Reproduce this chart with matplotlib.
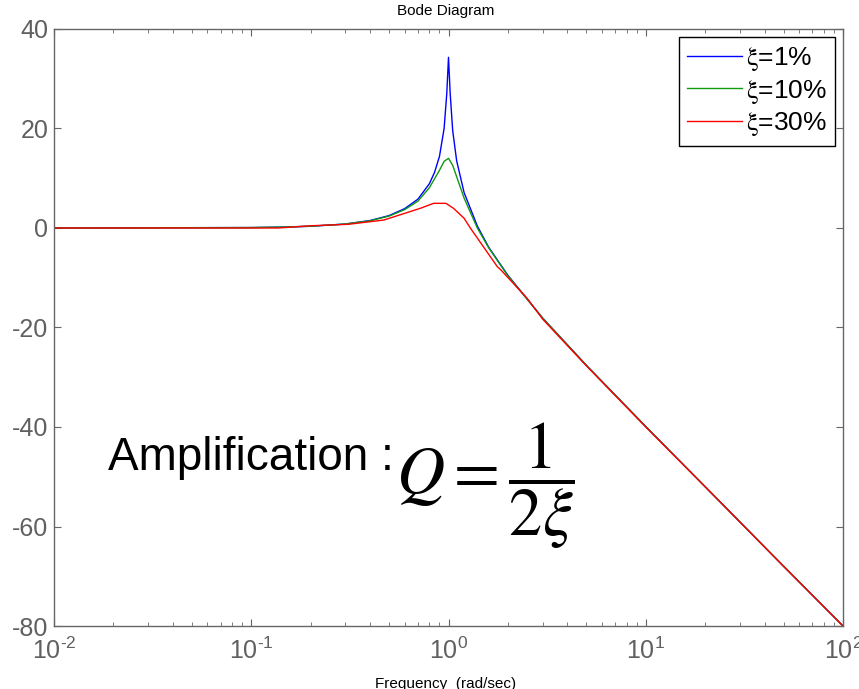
import matplotlib
matplotlib.use("Agg")
import matplotlib.pyplot as plt
from matplotlib.ticker import LogLocator, FixedLocator, NullFormatter

plt.rcParams['font.family'] = ['Liberation Sans', 'DejaVu Sans']
plt.rcParams['mathtext.fontset'] = 'custom'
plt.rcParams['mathtext.rm'] = 'Liberation Sans'
plt.rcParams['mathtext.it'] = 'Liberation Sans:italic'
plt.rcParams['axes.unicode_minus'] = False

w_1 = [0.01, 0.1, 0.15, 0.2, 0.3, 0.4, 0.5, 0.6, 0.7, 0.8, 0.85, 0.9, 0.95, 0.98, 1.0,
       1.02, 1.05, 1.1, 1.2, 1.4, 1.6, 2.0, 3.0, 5.0, 10.0, 20.0, 50.0, 100.0]
db_1 = [0.0, 0.09, 0.2, 0.35, 0.8, 1.5, 2.5, 3.9, 5.8, 8.9, 11.2, 14.4, 20.0, 27.0, 34.3,
        27.0, 19.6, 13.5, 7.1, 0.4, -3.9, -9.5, -18.1, -27.6, -39.9, -52.0, -68.0, -80.0]

w_10 = [0.01, 0.1, 0.15, 0.2, 0.3, 0.4, 0.5, 0.6, 0.7, 0.8, 0.9, 0.95, 1.0,
        1.05, 1.1, 1.2, 1.4, 1.6, 2.0, 3.0, 5.0, 10.0, 20.0, 50.0, 100.0]
db_10 = [0.0, 0.09, 0.2, 0.35, 0.8, 1.45, 2.4, 3.7, 5.4, 8.1, 11.6, 13.4, 14.0,
         12.6, 10.3, 6.0, 0.0, -4.0, -9.6, -18.1, -27.6, -39.9, -52.0, -68.0, -80.0]

w_30 = [0.01, 0.137, 0.2, 0.31, 0.47, 0.72, 0.84, 0.97, 1.06, 1.2, 1.29,
        1.77, 1.84, 2.5, 3.0, 5.0, 10.0, 20.0, 50.0, 100.0]
db_30 = [0.0, 0.0, 0.45, 0.74, 1.6, 3.96, 4.96, 4.96, 3.96, 1.95, 0.0,
         -7.8, -8.4, -14.1, -18.3, -27.7, -40.0, -52.0, -68.0, -80.0]

labels = [r'$\mathrm{\xi}$=1%', r'$\mathrm{\xi}$=10%', r'$\mathrm{\xi}$=30%']
couleurs = ['#0000ff', '#109a10', '#ff0000']

y_ticks = [-80, -60, -40, -20, 0, 20, 40]
x_ticks = [0.01, 0.1, 1, 10, 100]
x_labels = ['$10^{\u20102}$', '$10^{\u20101}$', r'$10^{0}$', r'$10^{1}$', r'$10^{2}$']

fig = plt.figure(figsize=(8.59, 6.89), dpi=100)
ax = fig.add_axes([54 / 859, 1 - 626 / 689, (843 - 54) / 859, (626 - 29) / 689])

for w, db, lab, c in zip([w_1, w_10, w_30], [db_1, db_10, db_30], labels, couleurs):
    ax.plot(w, db, color=c, lw=1.0, label=lab)

ax.set_xscale('log')
ax.set_xlim(0.01, 100)
ax.set_ylim(-80, 40)
ax.xaxis.set_major_locator(FixedLocator(x_ticks))
ax.set_xticklabels(x_labels)
ax.xaxis.set_minor_locator(LogLocator(base=10, subs=range(2, 10)))
ax.xaxis.set_minor_formatter(NullFormatter())
ax.set_yticks(y_ticks)

gris = '#606060'
for s in ax.spines.values():
    s.set_color('#666666')
    s.set_linewidth(1.0)
ax.tick_params(which='both', direction='in', top=True, right=True, colors='#666666',
               labelcolor=gris, labelsize=18)
ax.tick_params(which='major', length=5)
ax.tick_params(which='minor', length=3)
ax.tick_params(axis='y', pad=4)
ax.tick_params(axis='x', pad=8)

leg = ax.legend(loc='upper right', fontsize=19, frameon=True, fancybox=False,
                edgecolor='black', framealpha=1, handlelength=2.1, handletextpad=0.15,
                borderpad=0.3, labelspacing=0.18, borderaxespad=0.3)
leg.get_frame().set_linewidth(1.0)
for t in leg.get_texts():
    t.set_math_fontfamily('stix')

# titre et légende d'axe coupés par le bord de l'image, comme l'original
fig.text(446 / 859, 1 - 15 / 689, 'Bode Diagram', ha='center', va='baseline', fontsize=11)
fig.text(446 / 859, 1 - 677 / 689, 'Frequency  (rad/sec)', ha='center', va='top', fontsize=11)

fig.text(108 / 859, 1 - 470 / 689, 'Amplification :', fontsize=33,
         ha='left', va='baseline')
fig.text(396 / 859, 1 - 486 / 689, r'$Q=\dfrac{1}{2\xi}$', fontsize=48,
         ha='left', va='center', math_fontfamily='stix')

fig.savefig('out.png', dpi=100)
